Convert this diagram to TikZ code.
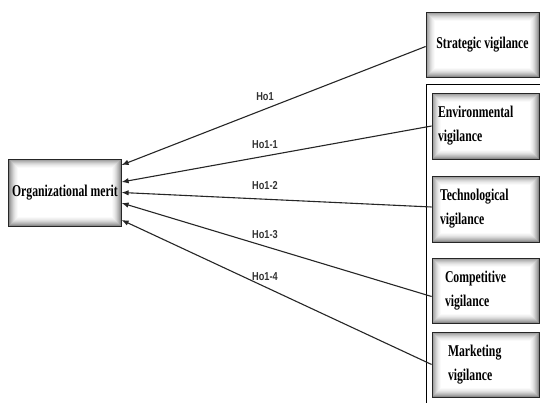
\documentclass[tikz,border=0pt]{standalone}
\usepackage{fontspec}
\newfontfamily\boxfont[FakeStretch=0.71]{Liberation Serif}
\newfontfamily\lblfont[FakeStretch=0.8]{Liberation Sans}
\usetikzlibrary{arrows.meta}
\tikzset{
  shadebox/.style={
    draw=black!85, line width=0.8pt, inner ysep=0pt,
    font=\boxfont\bfseries\fontsize{16.5}{24}\selectfont,
    path picture={
      \foreach \i/\c in {0/45,1/36,2/29,3/23,4/17,5/12,6/8,7/5,8/2,9/0}{
        \fill[black!\c] ([shift={(\i pt,\i pt)}]path picture bounding box.south west)
          rectangle ([shift={(-\i pt,-\i pt)}]path picture bounding box.north east);
      }
    }},
  conn/.style={draw=black!85, line width=1.1pt, -{Latex[length=7pt,width=5.5pt]}},
  lbl/.style={font=\lblfont\bfseries\fontsize{11.5}{13}\selectfont, text=black!80, inner sep=0pt},
  frame/.style={draw=black, line width=1pt}
}
\begin{document}
\begin{tikzpicture}[x=1pt,y=-1pt]
\useasboundingbox[fill=white] (0,0) rectangle (540,403);

% outer frame around the four vigilance dimensions
\coordinate (ftr) at (540,85);
\coordinate (ftl) at (426,85);
\coordinate (fbl) at (426,403);
\draw[frame] (ftr) -- (ftl) -- (fbl);

\node[shadebox, minimum width=108pt, minimum height=67pt, align=center] (om) at (65,192.5) {Organizational merit};

\node[shadebox, minimum width=113pt, minimum height=65pt, align=center] (strat) at (482.5,44.5) {Strategic vigilance};

\node[shadebox, minimum width=107pt, minimum height=66pt, inner xsep=6pt, text width=95pt, align=left] (env) at (485.5,126) {Environmental\\vigilance};

\node[shadebox, minimum width=107pt, minimum height=66pt, inner xsep=8pt, text width=91pt, align=left] (tech) at (485.5,209) {Technological\\vigilance};

\node[shadebox, minimum width=107pt, minimum height=65pt, inner xsep=13pt, text width=81pt, align=left] (comp) at (485.5,290.5) {Competitive\\vigilance};

\node[shadebox, minimum width=107pt, minimum height=65pt, inner xsep=16pt, text width=75pt, align=left] (mark) at (485.5,364.5) {Marketing\\vigilance};

\draw[conn] ([yshift=-2pt]strat.west) -- ([yshift=27.5pt]om.east);
\draw[conn] (env.west) -- ([yshift=10.5pt]om.east);
\draw[conn] ([yshift=2pt]tech.west) -- (om.east);
\draw[conn] ([yshift=-6pt]comp.west) -- ([yshift=-10.5pt]om.east);
\draw[conn] (mark.west) -- ([yshift=-27.5pt]om.east);

\node[lbl] (l0) at (265,97) {Ho1};
\node[lbl] (l1) at (265,145) {Ho1-1};
\node[lbl] (l2) at (265,186) {Ho1-2};
\node[lbl] (l3) at (265,235) {Ho1-3};
\node[lbl] (l4) at (265,277) {Ho1-4};
\end{tikzpicture}
\end{document}
